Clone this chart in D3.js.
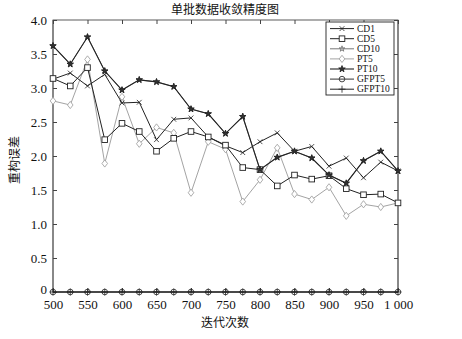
<!DOCTYPE html>
<html><head><meta charset="utf-8">
<script src="https://cdn.jsdelivr.net/npm/d3@7"></script>
<style>body{margin:0;background:#fff}svg{display:block}</style>
</head><body>
<script>
const iterations = [500,525,550,575,600,625,650,675,700,725,750,775,800,825,850,875,900,925,950,975,1000];
const cd1  = [3.13,3.22,3.03,3.20,2.78,2.79,2.24,2.54,2.56,2.28,2.15,2.05,2.21,2.34,2.07,2.14,1.85,1.97,1.68,1.91,1.78];
const cd5  = [3.14,3.03,3.30,2.24,2.48,2.36,2.07,2.26,2.36,2.28,2.16,1.83,1.80,1.56,1.72,1.66,1.71,1.52,1.43,1.44,1.31];
const cd10 = [3.62,3.35,3.75,3.25,2.97,3.12,3.09,3.02,2.69,2.62,2.33,2.58,1.80,1.98,2.07,1.97,1.72,1.60,1.93,2.07,1.78];
const pt5  = [2.81,2.75,3.42,1.89,2.87,2.18,2.42,2.34,1.46,2.21,2.10,1.33,1.65,2.12,1.44,1.36,1.54,1.12,1.29,1.25,1.31];
const pt10 = [3.62,3.35,3.75,3.25,2.97,3.12,3.09,3.02,2.69,2.62,2.33,2.58,1.80,1.98,2.07,1.97,1.72,1.60,1.93,2.07,1.78];
const gfpt5  = [0,0,0,0,0,0,0,0,0,0,0,0,0,0,0,0,0,0,0,0,0];
const gfpt10 = [0,0,0,0,0,0,0,0,0,0,0,0,0,0,0,0,0,0,0,0,0];
const xTicks = [500,550,600,650,700,750,800,850,900,950,1000];
const xTickLabels = ["500","550","600","650","700","750","800","850","900","950","1 000"];
const yTicks = [0,0.5,1.0,1.5,2.0,2.5,3.0,3.5,4.0];
const yTickLabels = ["0","0.5","1.0","1.5","2.0","2.5","3.0","3.5","4.0"];
const seriesNames = ["CD1","CD5","CD10","PT5","PT10","GFPT5","GFPT10"];

const W=462,H=339;
const L=53,R=398,T=20,B=292;
const svg=d3.select("body").append("svg").attr("width",W).attr("height",H);
const x=d3.scaleLinear().domain([500,1000]).range([L,R]);
const y=d3.scaleLinear().domain([0,4]).range([B,T]);
const serif="'Liberation Serif','Times New Roman',serif";
const cjk="'Noto Sans CJK SC',sans-serif";

svg.append("rect").attr("x",L).attr("y",T).attr("width",R-L).attr("height",B-T)
  .attr("fill","none").attr("stroke","#333").attr("stroke-width",0.8);
svg.append("line").attr("x1",L).attr("x2",L).attr("y1",T).attr("y2",B).attr("stroke","#888").attr("stroke-width",2);
svg.append("line").attr("x1",R).attr("x2",R).attr("y1",T).attr("y2",B).attr("stroke","#888").attr("stroke-width",2);

const gl=svg.append("g").attr("transform",`translate(${L},0)`)
  .call(d3.axisLeft(y).tickValues(yTicks).tickFormat((d,i)=>yTickLabels[i]).tickSizeInner(-4).tickSizeOuter(0).tickPadding(6));
const gr=svg.append("g").attr("transform",`translate(${R},0)`)
  .call(d3.axisRight(y).tickValues(yTicks).tickFormat("").tickSizeInner(-4).tickSizeOuter(0));
const gb=svg.append("g").attr("transform",`translate(0,${B})`)
  .call(d3.axisBottom(x).tickValues(xTicks).tickFormat((d,i)=>xTickLabels[i]).tickSizeInner(-4).tickSizeOuter(0).tickPadding(8));
const gt=svg.append("g").attr("transform",`translate(0,${T})`)
  .call(d3.axisTop(x).tickValues(xTicks).tickFormat("").tickSizeInner(-4).tickSizeOuter(0));
[gl,gr,gb,gt].forEach(g=>{g.select(".domain").remove();g.selectAll("line").attr("stroke","#444");
  g.selectAll("text").attr("font-family",serif).attr("font-size",13).attr("fill","#111");});
gl.selectAll(".tick").filter(d=>d===0).select("text").attr("dy","0.1em");

function marker(g,type,px,py,col){
  const s=2.4;
  if(type==="x"){g.append("path").attr("d",`M${px-s},${py-s}L${px+s},${py+s}M${px-s},${py+s}L${px+s},${py-s}`).attr("stroke",col).attr("stroke-width",0.8).attr("fill","none");}
  else if(type==="square"){g.append("rect").attr("x",px-2.8).attr("y",py-2.8).attr("width",5.6).attr("height",5.6).attr("fill","#fff").attr("stroke",col).attr("stroke-width",0.9);}
  else if(type==="star"||type==="starfill"){g.append("path").attr("d",d3.symbol(d3.symbolStar,type==="starfill"?13:10)()).attr("transform",`translate(${px},${py})`)
     .attr("fill",type==="starfill"?"#333":"none").attr("stroke",col).attr("stroke-width",0.9);}
  else if(type==="diamond"){g.append("path").attr("d",`M${px},${py-3.6}L${px+2.8},${py}L${px},${py+3.6}L${px-2.8},${py}Z`).attr("fill","#fff").attr("stroke",col).attr("stroke-width",0.8);}
  else if(type==="circle"){g.append("circle").attr("cx",px).attr("cy",py).attr("r",2.8).attr("fill","none").attr("stroke",col).attr("stroke-width",0.9);}
  else if(type==="plus"){g.append("path").attr("d",`M${px-3.5},${py}L${px+3.5},${py}M${px},${py-3.5}L${px},${py+3.5}`).attr("stroke",col).attr("stroke-width",0.8);}
}

const series=[
  {name:seriesNames[2],vals:cd10,col:"#777",mk:"star",w:1},
  {name:seriesNames[3],vals:pt5,col:"#999",mk:"diamond",w:0.9},
  {name:seriesNames[0],vals:cd1,col:"#222",mk:"x",w:1},
  {name:seriesNames[1],vals:cd5,col:"#222",mk:"square",w:1},
  {name:seriesNames[4],vals:pt10,col:"#222",mk:"starfill",w:1.1},
  {name:seriesNames[5],vals:gfpt5,col:"#333",mk:"circle",w:1},
  {name:seriesNames[6],vals:gfpt10,col:"#222",mk:"plus",w:1}
];
const line=d3.line().x((d,i)=>x(iterations[i])).y(d=>y(d));
series.forEach(s=>{
  const g=svg.append("g");
  g.append("path").datum(s.vals).attr("d",line).attr("fill","none").attr("stroke",s.col).attr("stroke-width",s.w);
  s.vals.forEach((v,i)=>marker(g,s.mk,x(iterations[i]),y(v),s.col));
});

const lg=svg.append("g");
lg.append("rect").attr("x",326).attr("y",22).attr("width",68).attr("height",73).attr("fill","#fff").attr("stroke","#222").attr("stroke-width",0.9);
const byName={};series.forEach(s=>byName[s.name]=s);
seriesNames.forEach((nm,i)=>{
  const s=byName[nm];const yy=28.6+i*10.1;
  lg.append("line").attr("x1",330).attr("x2",354).attr("y1",yy).attr("y2",yy).attr("stroke",s.col).attr("stroke-width",s.w);
  marker(lg,s.mk,342,yy,s.col);
  lg.append("text").attr("x",357).attr("y",yy+3.2).text(nm).attr("font-family",serif).attr("font-size",9.5).attr("fill","#111");
});

svg.append("text").attr("x",225).attr("y",14).attr("text-anchor","middle").attr("font-family",cjk).attr("font-size",12).attr("fill","#111").text("单批数据收敛精度图");
svg.append("text").attr("x",225).attr("y",327).attr("text-anchor","middle").attr("font-family",cjk).attr("font-size",12).attr("fill","#111").text("迭代次数");
svg.append("text").attr("transform","translate(19,160) rotate(-90)").attr("text-anchor","middle").attr("font-family",cjk).attr("font-size",12).attr("fill","#111").text("重构误差");
</script>
</body></html>
